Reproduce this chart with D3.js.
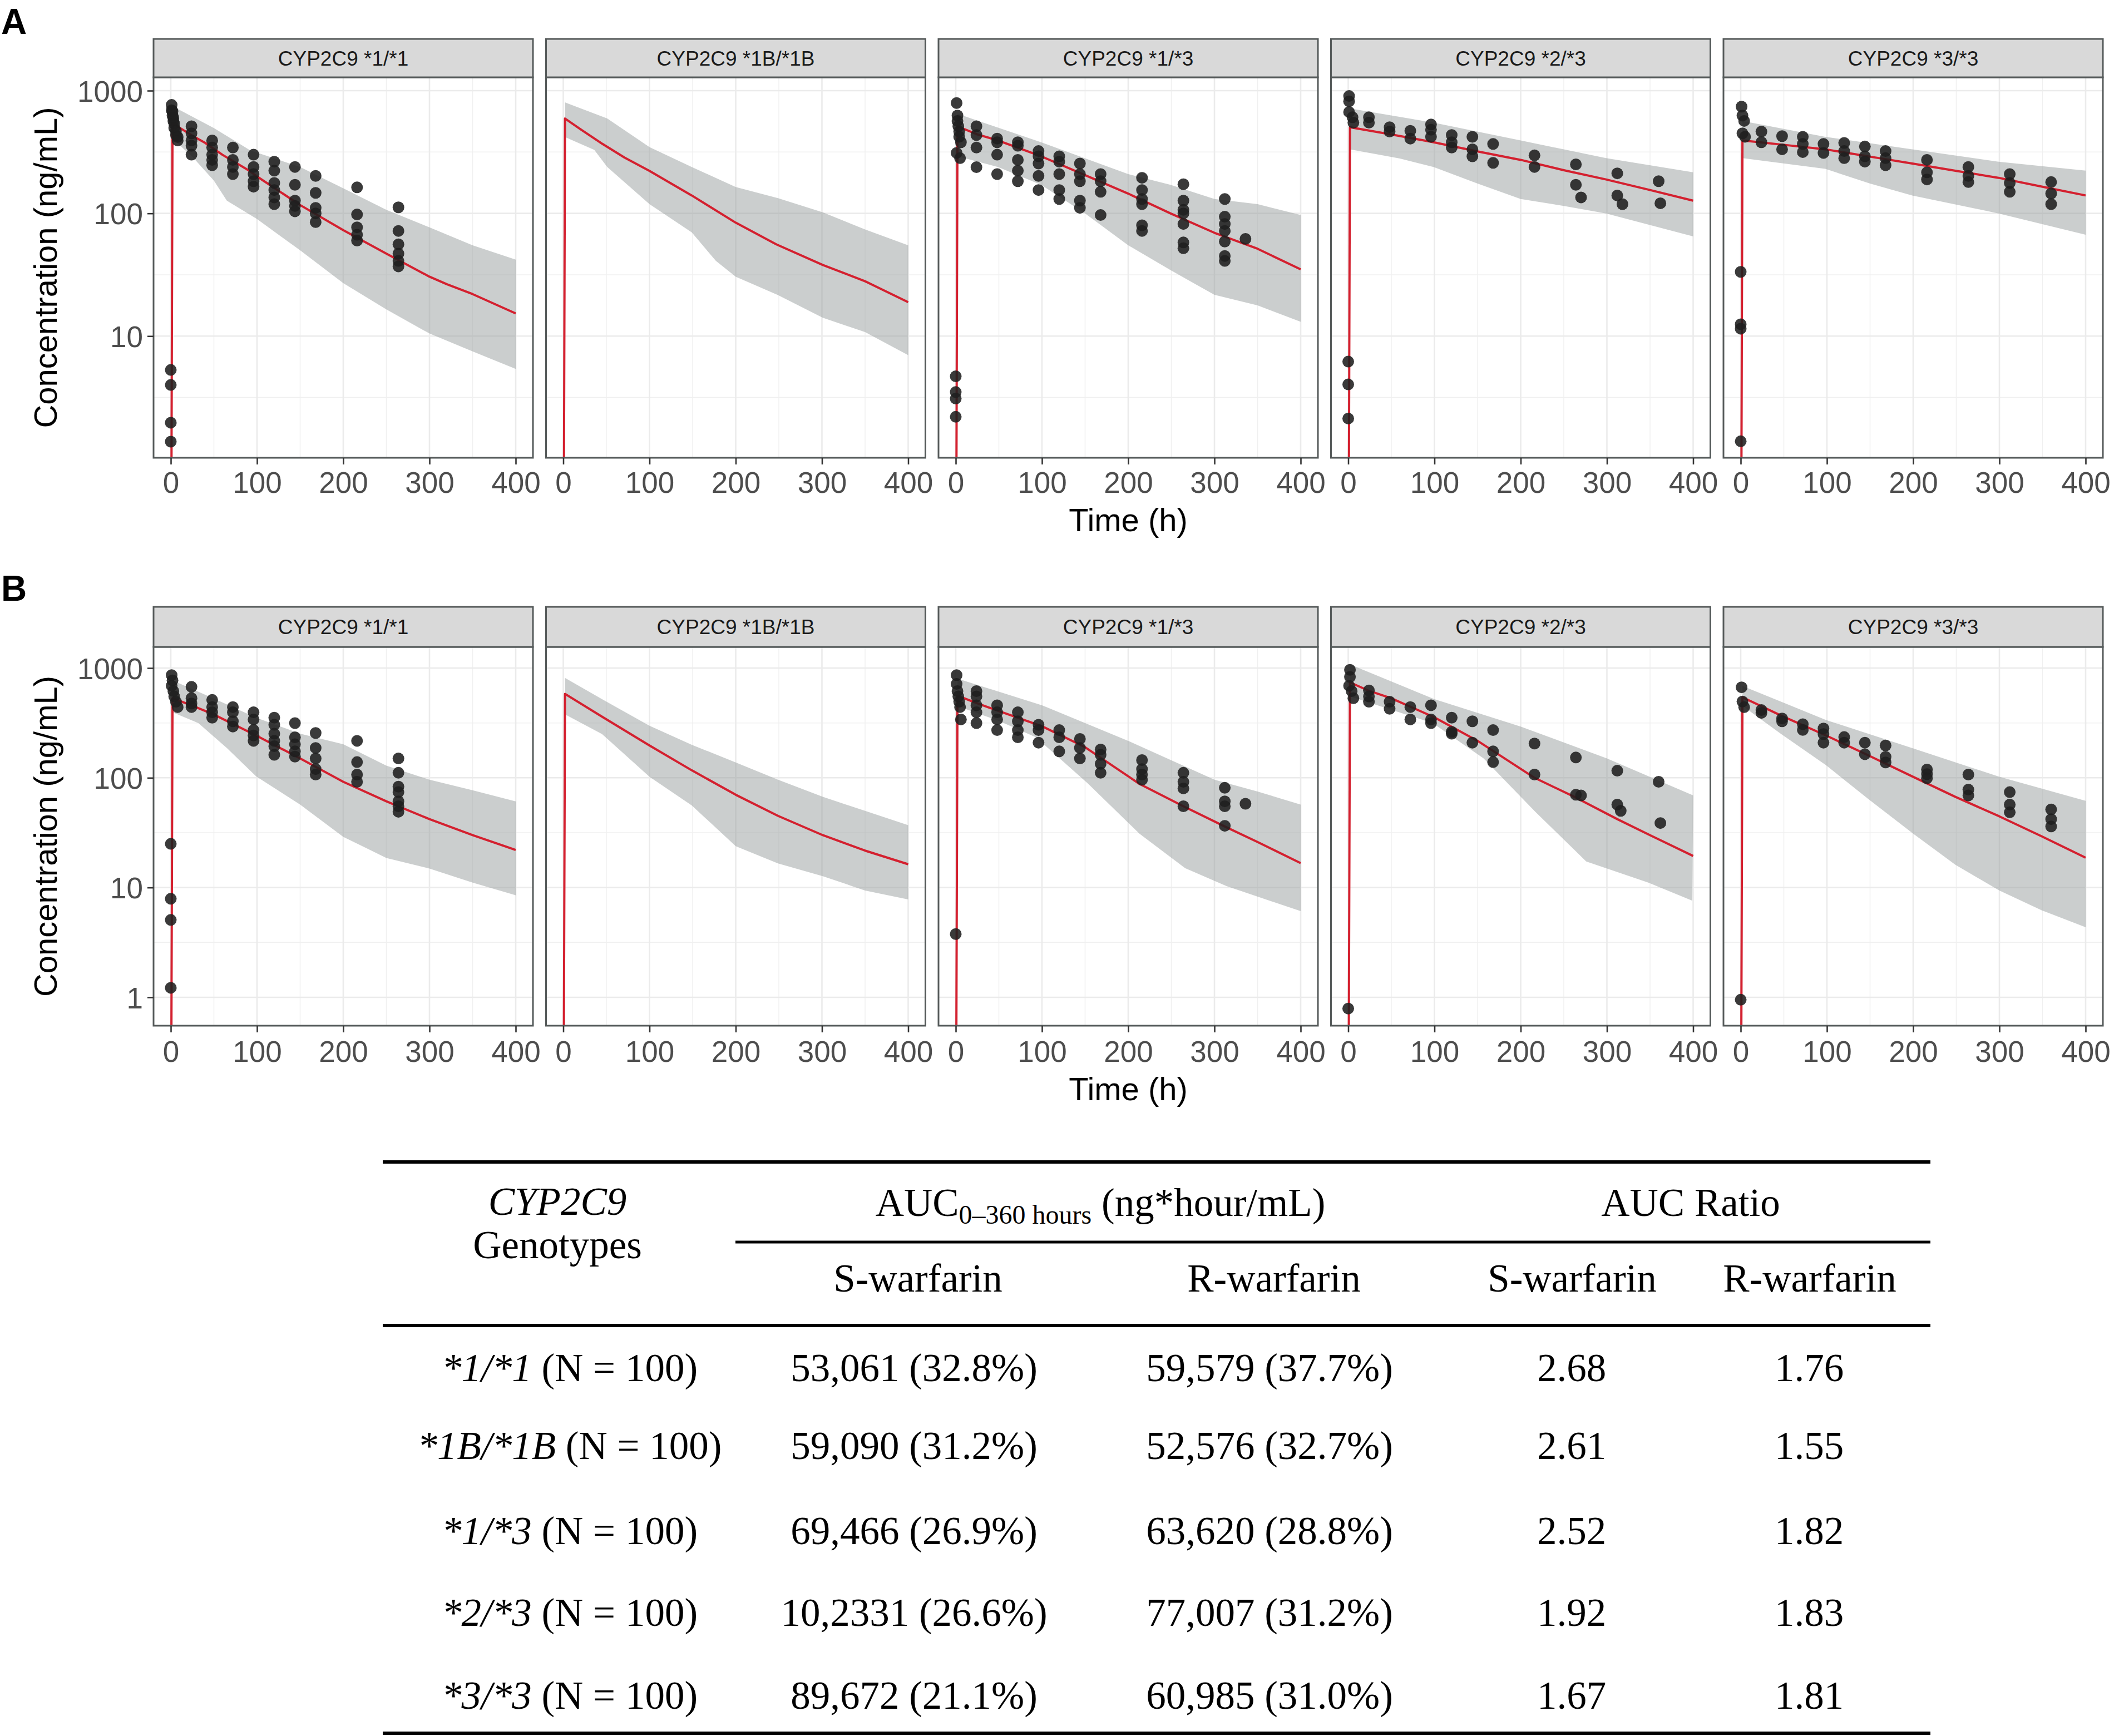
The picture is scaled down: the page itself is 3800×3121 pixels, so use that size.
<!DOCTYPE html>
<html><head><meta charset="utf-8">
<script src="https://cdn.jsdelivr.net/npm/d3@7"></script>
<style>body{margin:0;background:#fff} svg{display:block}</style>
</head><body>
<svg id="c" width="3800" height="3121"></svg>
<script>
// ---------------- DATA ----------------
const genotypes = ["CYP2C9 *1/*1", "CYP2C9 *1B/*1B", "CYP2C9 *1/*3", "CYP2C9 *2/*3", "CYP2C9 *3/*3"];
const xTicks = [0, 100, 200, 300, 400];
const xMinor = [50, 150, 250, 350];
const yTicksA = [10, 100, 1000];
const yTicksB = [1, 10, 100, 1000];
const yMinorA = [3.162, 31.62, 316.2];
const yMinorB = [3.162, 31.62, 316.2];

// Panel A (S-warfarin): median line [t, conc]
const lineA1 = [[0,0.01],[2,545],[12,490],[25,430],[40,375],[60,300],[90,225],[100,200],[150,117],[200,73],[250,47],[300,30.5],[320,26.5],[350,22],[400,15.3]];
const lineA2 = [[0,0.01],[2,593],[20,485],[45,370],[71,285],[100,222],[149,140],[200,84],[247,56],[301,38],[350,28],[400,18.9]];
const lineA3 = [[0,0.01],[2,513],[25,440],[49,393],[99,292],[150,205],[200,145],[249,100],[300,69.5],[350,51.5],[400,35]];
const lineA4 = [[0,0.01],[2,504],[50,440],[99,380],[150,320],[200,273],[250,225],[299,189],[350,155],[400,127]];
const lineA5 = [[0,0.01],[2,393],[50,362],[98,333],[150,290],[199,255],[250,222],[299,195],[350,165],[400,140]];
// Panel A ribbons: upper and lower bounds [t, conc]
const upA1 = [[3,741],[50,496],[92,327],[150,239],[200,160],[250,107],[300,77],[350,55],[400,42]];
const loA1 = [[3,400],[25,290],[50,185],[65,127],[100,90],[150,50],[200,27],[250,16.5],[300,10.5],[350,7.5],[400,5.4]];
const upA2 = [[2,803],[51,593],[100,347],[149,239],[200,164],[249,133],[301,102],[350,74],[400,55]];
const loA2 = [[2,419],[36,329],[51,239],[100,119],[149,70],[177,41],[200,30.5],[249,21.6],[301,14.1],[350,10.8],[400,7.0]];
const upA3 = [[2,648],[99,380],[200,209],[249,171],[300,131],[350,119],[400,97]];
const loA3 = [[2,292],[49,239],[99,171],[150,100],[200,55],[249,34.5],[300,21.7],[350,17.8],[400,13.1]];
const upA4 = [[2,716],[99,549],[200,393],[299,282],[400,216]];
const loA4 = [[2,333],[60,280],[99,239],[150,175],[200,131],[250,115],[299,100],[400,65]];
const upA5 = [[2,567],[98,421],[199,333],[299,264],[400,223]];
const loA5 = [[2,282],[98,231],[150,175],[199,140],[299,100],[400,67]];
// Panel A observed points [t, conc]
const obsA1 = [[0,5.3],[0,4.0],[0,1.97],[0,1.38],
 [1,766],[1,693],[2,627],[2,680],[3,567],[3,600],[4,497],[4,540],[6,435],[6,470],[8,393],[8,420],
 [24,513],[24,449],[24,393],[24,356],[24,301],
 [48,393],[48,344],[48,301],[48,273],[48,247],
 [72,344],[72,273],[72,239],[72,209],
 [96,301],[96,239],[96,209],[96,183],[96,165],
 [120,264],[120,223],[120,177],[120,155],[120,135],[120,119],
 [144,239],[144,171],[144,127],[144,115],[144,104],
 [168,202],[168,147],[168,111],[168,100],[168,85],
 [216,163],[216,98],[216,77],[216,67],[216,60],
 [264,112],[264,72],[264,56],[264,47],[264,41],[264,37]];
const obsA3 = [[0,4.7],[0,3.5],[0,3.1],[0,2.2],
 [1,793],[2,627],[2,567],[3,513],[4,464],[4,421],[6,380],[1,311],[5,282],
 [24,513],[24,435],[24,344],[24,238],
 [48,407],[48,380],[48,301],[48,209],
 [72,380],[72,356],[72,273],[72,223],[72,183],
 [96,322],[96,292],[96,255],[96,202],[96,155],
 [120,292],[120,264],[120,209],[120,155],[120,131],
 [144,255],[144,209],[144,183],[144,127],[144,111],
 [168,209],[168,183],[168,150],[168,97],
 [216,195],[216,155],[216,131],[216,119],[216,80],[216,72],
 [264,173],[264,127],[264,107],[264,100],[264,82],[264,58],[264,52],
 [312,131],[312,94],[312,82],[312,72],[312,59],[312,45],[312,41],
 [336,62]];
const obsA4 = [[0,6.2],[0,4.04],[0,2.13],
 [1,905],[1,819],[1,670],[5,607],[6,549],
 [24,607],[24,549],[48,504],[48,464],[72,471],[72,407],
 [96,530],[96,480],[96,421],[120,435],[120,380],[120,344],
 [144,421],[144,333],[144,292],[168,368],[168,258],
 [216,297],[216,239],[264,251],[264,171],[270,135],
 [312,212],[312,140],[318,119],[360,183],[362,121]];
const obsA5 = [[0,33.4],[0,12.5],[0,11.5],[0,1.39],
 [1,741],[2,627],[4,567],[2,449],[5,421],
 [24,464],[24,380],[48,426],[48,333],[72,421],[72,368],[72,316],
 [96,368],[96,311],[120,375],[120,322],[120,282],
 [144,351],[144,292],[144,264],[168,322],[168,282],[168,247],
 [216,273],[216,216],[216,189],[264,239],[264,202],[264,180],
 [312,209],[312,177],[312,150],[360,180],[360,145],[360,119]];

// Panel B (R-warfarin)
const lineB1 = [[0,0.01],[2,531],[24,457],[49,380],[99,243],[150,150],[200,92],[250,61],[300,42],[350,30],[400,22]];
const lineB2 = [[0,0.01],[2,582],[45,360],[100,197],[149,117],[200,70],[249,45],[301,30],[350,21.7],[400,16.3]];
const lineB3 = [[0,0.01],[2,560],[24,480],[50,405],[100,295],[150,190],[213,88],[264,55],[312,36],[350,26],[400,16.7]];
const lineB4 = [[0,0.01],[2,740],[24,620],[50,530],[100,355],[150,217],[216,100],[264,66],[312,42],[350,30],[400,19.4]];
const lineB5 = [[0,0.01],[2,542],[47,368],[99,243],[148,160],[200,102],[249,67],[300,44.5],[349,29.3],[400,18.7]];
const upB1 = [[2,771],[49,531],[99,353],[150,252],[200,202],[250,129],[300,96],[350,77],[400,61]];
const loB1 = [[2,395],[32,315],[65,187],[99,103],[150,57],[200,29],[250,18.6],[300,14.9],[350,11.1],[400,8.5]];
const upB2 = [[2,812],[45,520],[100,298],[149,200],[200,138],[249,96],[301,67],[350,50],[400,37]];
const loB2 = [[2,378],[45,250],[100,102],[149,56],[200,23.8],[249,16.6],[301,12.7],[350,9.4],[400,7.8]];
const upB3 = [[2,800],[100,458],[200,217],[300,96],[350,75],[400,57]];
const loB3 = [[2,450],[50,330],[93,234],[153,89],[213,31],[266,15],[314,10.3],[400,6.1]];
const upB4 = [[2,1080],[100,520],[200,293],[300,150],[400,69]];
const loB4 = [[2,551],[98,315],[157,150],[217,49],[276,17.3],[348,11.1],[399,7.6]];
const upB5 = [[2,687],[99,336],[200,185],[300,102],[400,61.7]];
const loB5 = [[2,453],[47,250],[99,130],[148,64],[200,31],[249,16.1],[300,9.4],[349,6.2],[400,4.35]];
const obsB1 = [[0,25],[0,7.9],[0,5.07],[0,1.22],
 [1,862],[2,771],[1,689],[3,616],[4,551],[6,493],[8,441],
 [24,674],[24,531],[24,475],[24,441],[48,512],[48,441],[48,395],[48,353],
 [72,441],[72,395],[72,327],[72,293],[96,395],[96,340],[96,272],[96,243],[96,217],
 [120,353],[120,304],[120,252],[120,217],[120,194],[120,162],
 [144,315],[144,234],[144,202],[144,174],[144,156],
 [168,256],[168,187],[168,150],[168,120],[168,107],
 [216,217],[216,139],[216,107],[216,92],
 [264,150],[264,111],[264,83],[264,74],[264,61],[264,55],[264,49]];
const obsB3 = [[0,3.77],
 [1,862],[1,716],[2,616],[3,551],[4,493],[5,441],[6,340],
 [24,616],[24,551],[24,458],[24,395],[24,315],[48,458],[48,395],[48,340],[48,272],
 [72,395],[72,327],[72,272],[72,234],[96,304],[96,272],[96,209],
 [120,272],[120,234],[120,174],[144,226],[144,187],[144,150],
 [168,181],[168,162],[168,134],[168,111],[216,145],[216,120],[216,107],[216,96],
 [264,111],[264,92],[264,80],[264,55],[312,81],[312,61],[312,55],[312,36.5],[336,58]];
const obsB4 = [[0,0.79],
 [2,963],[2,830],[1,689],[4,616],[6,531],
 [24,625],[24,551],[24,493],[48,493],[48,425],[72,441],[72,340],
 [96,458],[96,340],[96,315],[120,353],[120,262],[120,252],[144,327],[144,209],
 [168,272],[168,174],[168,139],[216,205],[216,107],[264,153],[264,70],[270,69],
 [312,116],[312,57],[316,50],[360,92],[362,38.7]];
const obsB5 = [[0,0.95],
 [1,667],[2,495],[4,440],[24,414],[24,390],[48,347],[48,327],[72,308],[72,273],
 [96,281],[96,250],[96,209],[120,235],[120,209],[144,209],[144,164],
 [168,197],[168,155],[168,138],[216,119],[216,108],[216,99],
 [264,107],[264,78],[264,69],[312,74],[312,57],[312,48.5],[360,51.5],[360,42],[360,36]];

// Table
const tableGenotypes = ["*1/*1", "*1B/*1B", "*1/*3", "*2/*3", "*3/*3"];
const tableN = ["(N = 100)", "(N = 100)", "(N = 100)", "(N = 100)", "(N = 100)"];
const aucS = ["53,061 (32.8%)", "59,090 (31.2%)", "69,466 (26.9%)", "10,2331 (26.6%)", "89,672 (21.1%)"];
const aucR = ["59,579 (37.7%)", "52,576 (32.7%)", "63,620 (28.8%)", "77,007 (31.2%)", "60,985 (31.0%)"];
const ratioS = ["2.68", "2.61", "2.52", "1.92", "1.67"];
const ratioR = ["1.76", "1.55", "1.82", "1.83", "1.81"];

// ---------------- DRAW ----------------
const svg = d3.select('#c');
svg.append('rect').attr('width', 3800).attr('height', 3121).attr('fill', '#fff');

const SANS = "'Liberation Sans', Arial, Helvetica, sans-serif";
const SERIF = "'Liberation Serif', 'Times New Roman', serif";
const panelLeft0 = 276, panelStep = 705.5, panelW = 682;

const rows = [
  {label:'A', labelY:61, stripTop:70, top:139, bottom:823, domain:[1.02, 1285], ticks:yTicksA, minor:yMinorA,
   lines:[lineA1,lineA2,lineA3,lineA4,lineA5], ups:[upA1,upA2,upA3,upA4,upA5], los:[loA1,loA2,loA3,loA4,loA5],
   obs:[obsA1,null,obsA3,obsA4,obsA5], tickLabY:886, titleY:955},
  {label:'B', labelY:1080, stripTop:1091, top:1163, bottom:1844, domain:[0.551, 1558], ticks:yTicksB, minor:yMinorB,
   lines:[lineB1,lineB2,lineB3,lineB4,lineB5], ups:[upB1,upB2,upB3,upB4,upB5], los:[loB1,loB2,loB3,loB4,loB5],
   obs:[obsB1,null,obsB3,obsB4,obsB5], tickLabY:1909, titleY:1978}
];

const defs = svg.append('defs');
rows.forEach((r, ri) => {
  svg.append('text').attr('x', 2).attr('y', r.labelY).attr('font-family', SANS).attr('font-weight', 'bold')
    .attr('font-size', 64).attr('fill', '#000').text(r.label);
  const y = d3.scaleLog().domain(r.domain).range([r.bottom, r.top]);
  genotypes.forEach((g, pi) => {
    const left = panelLeft0 + pi * panelStep;
    const x = d3.scaleLinear().domain([-20, 420]).range([left, left + panelW]);
    const gP = svg.append('g');
    const cid = `clip${ri}_${pi}`;
    defs.append('clipPath').attr('id', cid).append('rect')
      .attr('x', left).attr('y', r.top).attr('width', panelW).attr('height', r.bottom - r.top);
    // grid
    const grid = gP.append('g');
    xMinor.forEach(t => grid.append('line').attr('x1', x(t)).attr('x2', x(t)).attr('y1', r.top).attr('y2', r.bottom)
      .attr('stroke', '#F0F0F0').attr('stroke-width', 1.5));
    r.minor.forEach(v => { if (v > r.domain[0] && v < r.domain[1]) grid.append('line').attr('x1', left).attr('x2', left + panelW)
      .attr('y1', y(v)).attr('y2', y(v)).attr('stroke', '#F0F0F0').attr('stroke-width', 1.5); });
    xTicks.forEach(t => grid.append('line').attr('x1', x(t)).attr('x2', x(t)).attr('y1', r.top).attr('y2', r.bottom)
      .attr('stroke', '#EBEBEB').attr('stroke-width', 2.6));
    r.ticks.forEach(v => grid.append('line').attr('x1', left).attr('x2', left + panelW)
      .attr('y1', y(v)).attr('y2', y(v)).attr('stroke', '#EBEBEB').attr('stroke-width', 2.6));
    const data = gP.append('g').attr('clip-path', `url(#${cid})`);
    // ribbon
    const poly = r.ups[pi].concat(r.los[pi].slice().reverse());
    data.append('path').attr('d', d3.line().x(d => x(d[0])).y(d => y(d[1]))(poly) + 'Z')
      .attr('fill', '#989d9d').attr('fill-opacity', 0.5);
    // median line
    data.append('path').attr('d', d3.line().x(d => x(d[0])).y(d => y(d[1]))(r.lines[pi]))
      .attr('fill', 'none').attr('stroke', '#D4202F').attr('stroke-width', 4).attr('stroke-linejoin', 'round');
    // observations
    if (r.obs[pi]) {
      data.selectAll('circle.o').data(r.obs[pi]).join('circle').attr('class', 'o')
        .attr('cx', d => x(d[0])).attr('cy', d => y(d[1])).attr('r', 10.5)
        .attr('fill', '#1f1f1f').attr('fill-opacity', 0.88);
    }
    // border
    gP.append('rect').attr('x', left).attr('y', r.top).attr('width', panelW).attr('height', r.bottom - r.top)
      .attr('fill', 'none').attr('stroke', '#555a5a').attr('stroke-width', 3);
    // strip
    gP.append('rect').attr('x', left).attr('y', r.stripTop).attr('width', panelW).attr('height', r.top - r.stripTop)
      .attr('fill', '#D9D9D9').attr('stroke', '#555a5a').attr('stroke-width', 3);
    gP.append('text').attr('x', left + panelW / 2).attr('y', (r.stripTop + r.top) / 2 + 13)
      .attr('text-anchor', 'middle').attr('font-family', SANS).attr('font-size', 37).attr('fill', '#1A1A1A').text(g);
    // x axis
    const xa = gP.append('g').attr('transform', `translate(0,${r.bottom})`)
      .call(d3.axisBottom(x).tickValues(xTicks).tickSize(12).tickPadding(0).tickFormat(d3.format('d')));
    xa.select('.domain').remove();
    xa.selectAll('line').attr('stroke', '#333').attr('stroke-width', 2.6);
    xa.selectAll('text').attr('y', r.tickLabY - r.bottom).attr('dy', null).attr('font-family', SANS)
      .attr('font-size', 53).attr('fill', '#4D4D4D');
    if (pi === 0) {
      const ya = gP.append('g').attr('transform', `translate(${left},0)`)
        .call(d3.axisLeft(y).tickValues(r.ticks).tickSize(11).tickPadding(8).tickFormat(d3.format('d')));
      ya.select('.domain').remove();
      ya.selectAll('line').attr('stroke', '#333').attr('stroke-width', 2.6);
      ya.selectAll('text').attr('dy', '0.36em').attr('font-family', SANS).attr('font-size', 53).attr('fill', '#4D4D4D');
    }
  });
  // axis titles
  svg.append('text').attr('x', 2028).attr('y', r.titleY).attr('text-anchor', 'middle')
    .attr('font-family', SANS).attr('font-size', 58).attr('fill', '#000').text('Time (h)');
  svg.append('text').attr('transform', `translate(102,${(r.top + r.bottom) / 2}) rotate(-90)`).attr('text-anchor', 'middle')
    .attr('font-family', SANS).attr('font-size', 58).attr('fill', '#000').text('Concentration (ng/mL)');
});

// ---------------- TABLE ----------------
const tg = svg.append('g').attr('font-family', SERIF).attr('fill', '#000');
function rule(x1, x2, yy, w) { tg.append('line').attr('x1', x1).attr('x2', x2).attr('y1', yy).attr('y2', yy).attr('stroke', '#000').attr('stroke-width', w); }
rule(688, 3470, 2089, 6);
rule(1322, 3470, 2233, 5);
rule(688, 3470, 2383, 6);
rule(688, 3470, 3116, 6);
const FS = 71;
tg.append('text').attr('x', 1002).attr('y', 2184).attr('text-anchor', 'middle').attr('font-size', FS).attr('font-style', 'italic').text('CYP2C9');
tg.append('text').attr('x', 1002).attr('y', 2262).attr('text-anchor', 'middle').attr('font-size', FS).text('Genotypes');
const auc = tg.append('text').attr('x', 1978).attr('y', 2186).attr('text-anchor', 'middle').attr('font-size', FS);
auc.append('tspan').text('AUC');
auc.append('tspan').attr('font-size', 48).attr('dy', 14).text('0\u2013360 hours');
auc.append('tspan').attr('dy', -14).text(' (ng*hour/mL)');
tg.append('text').attr('x', 3039).attr('y', 2186).attr('text-anchor', 'middle').attr('font-size', FS).text('AUC Ratio');
const subHeads = [['S-warfarin', 1650], ['R-warfarin', 2290], ['S-warfarin', 2826], ['R-warfarin', 3253]];
subHeads.forEach(([t, xx]) => tg.append('text').attr('x', xx).attr('y', 2322).attr('text-anchor', 'middle').attr('font-size', FS).text(t));
const rowBase = [2483, 2623, 2776, 2923, 3072];
tableGenotypes.forEach((gname, i) => {
  const t = tg.append('text').attr('x', 1024).attr('y', rowBase[i]).attr('text-anchor', 'middle').attr('font-size', FS);
  t.append('tspan').attr('font-style', 'italic').text(gname);
  t.append('tspan').text(' ' + tableN[i]);
  tg.append('text').attr('x', 1643).attr('y', rowBase[i]).attr('text-anchor', 'middle').attr('font-size', FS).text(aucS[i]);
  tg.append('text').attr('x', 2282).attr('y', rowBase[i]).attr('text-anchor', 'middle').attr('font-size', FS).text(aucR[i]);
  tg.append('text').attr('x', 2825).attr('y', rowBase[i]).attr('text-anchor', 'middle').attr('font-size', FS).text(ratioS[i]);
  tg.append('text').attr('x', 3252).attr('y', rowBase[i]).attr('text-anchor', 'middle').attr('font-size', FS).text(ratioR[i]);
});
</script>
</body></html>
